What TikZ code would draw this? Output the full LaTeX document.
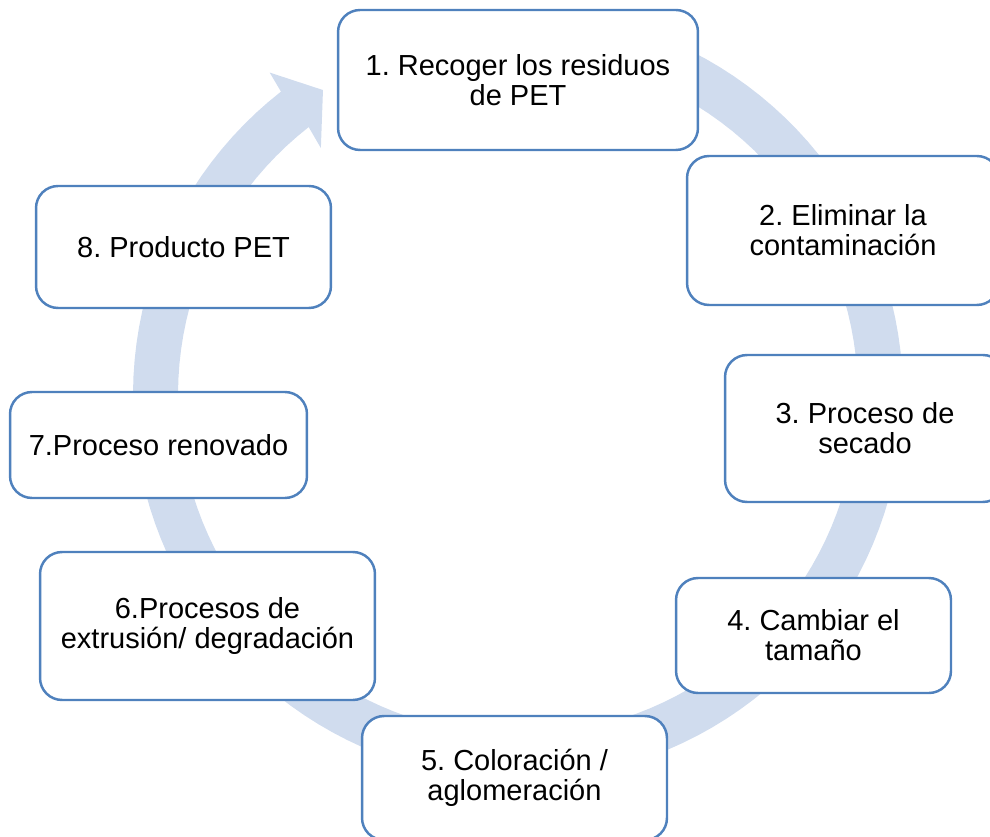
\documentclass[tikz,border=0pt]{standalone}
\usepackage{fontspec}
\setmainfont{Liberation Sans}
\frenchspacing
\definecolor{ringblue}{RGB}{208,220,238}
\definecolor{boxline}{RGB}{79,129,189}
\begin{document}
\begin{tikzpicture}[x=0.02cm,y=-0.02cm,
  stepbox/.style={draw=boxline, line width=1.4pt, fill=white,
    rounded corners=0.44cm, align=center, inner sep=0pt,
    font=\fontsize{16.5}{17}\selectfont}]
\clip (0,0) rectangle (990,837);
% circular arrow behind the steps (centre 518,395)
\fill[ringblue]
  plot[domain=110:-232, samples=140] ({518+385*cos(\x)},{395-385*sin(\x)})
  -- ({518+407*cos(127.6)},{395-407*sin(127.6)})
  -- ({518+362*cos(122.6)},{395-362*sin(122.6)})
  -- ({518+316*cos(128.6)},{395-316*sin(128.6)})
  -- plot[domain=-232:110, samples=140] ({518+340*cos(\x)},{395-340*sin(\x)})
  -- cycle;
% the eight steps
\node[stepbox, minimum width=7.2cm,  minimum height=2.8cm]  (s1) at (518,80)    {1. Recoger los residuos\\de PET};
\node[stepbox, minimum width=6.24cm, minimum height=2.98cm] (s2) at (843,230.5) {2. Eliminar la\\contaminación};
\node[stepbox, minimum width=5.6cm,  minimum height=2.94cm] (s3) at (865,428.5) {3. Proceso de\\secado};
\node[stepbox, minimum width=5.5cm,  minimum height=2.3cm]  (s4) at (813.5,635.5) {4. Cambiar el\\tamaño};
\node[stepbox, minimum width=6.1cm,  minimum height=2.48cm] (s5) at (514.5,778) {5. Coloración /\\aglomeración};
\node[stepbox, minimum width=6.7cm,  minimum height=2.96cm] (s6) at (207.5,626) {6.Procesos de\\extrusión/ degradación};
\node[stepbox, minimum width=5.94cm, minimum height=2.12cm] (s7) at (158.5,445) {7.Proceso renovado};
\node[stepbox, minimum width=5.9cm,  minimum height=2.44cm] (s8) at (183.5,247) {8. Producto PET};
\end{tikzpicture}
\end{document}
